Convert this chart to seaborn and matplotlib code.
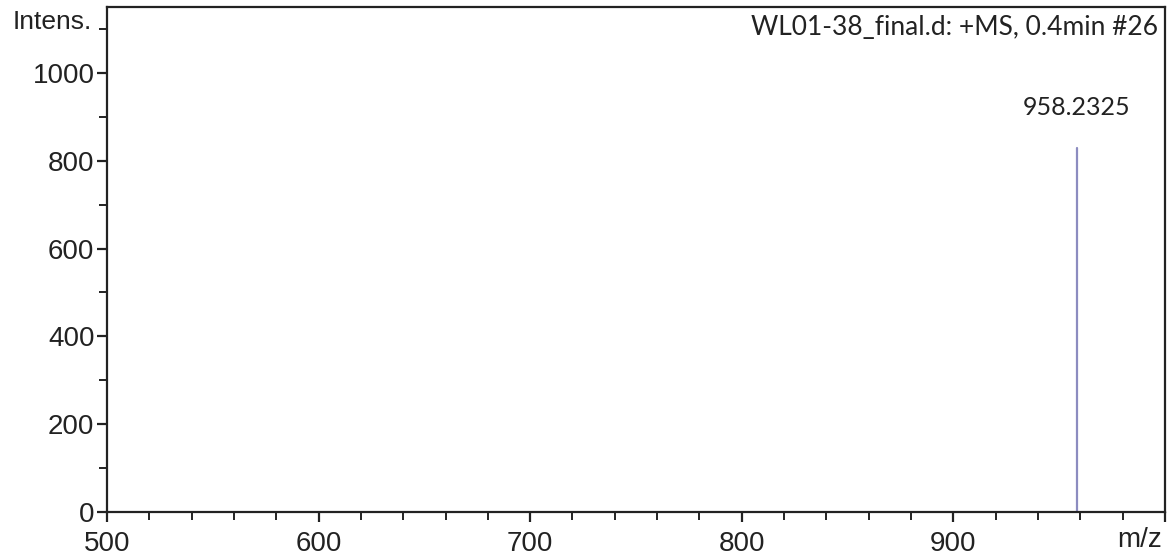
import numpy as np
import pandas as pd
import matplotlib
matplotlib.use("Agg")
import matplotlib.pyplot as plt
import seaborn as sns
from matplotlib.ticker import MultipleLocator

# Mass spectrum peaks
peak_mz = [958.2325]
peak_intensity = [830]
peak_labels = ["958.2325"]

x_ticks = [500, 600, 700, 800, 900]
y_ticks = [0, 200, 400, 600, 800, 1000]

spectrum_title = "WL01-38_final.d: +MS, 0.4min #26"

sns.set_theme(style="ticks")
plt.rcParams["font.family"] = ["Liberation Sans", "DejaVu Sans"]

df = pd.DataFrame({"mz": peak_mz, "intensity": peak_intensity, "label": peak_labels})

fig = plt.figure(figsize=(11.74, 5.57), dpi=100)
ax = fig.add_axes([0.0911, 0.0808, 0.9012, 0.9066])

# Stick spectrum: one vertical line per peak
stick = pd.DataFrame({
    "mz": np.repeat(df["mz"].values, 2),
    "intensity": np.column_stack([np.zeros(len(df)), df["intensity"].values]).ravel(),
    "peak": np.repeat(np.arange(len(df)), 2),
})
sns.lineplot(data=stick, x="mz", y="intensity", units="peak", estimator=None,
             color="#8c8cc0", linewidth=1.6, ax=ax, legend=False, sort=False)

for _, row in df.iterrows():
    ax.text(row["mz"], row["intensity"] + 65, row["label"], ha="center", va="bottom",
            fontsize=18, family=["Lato", "DejaVu Sans"], color="#222222")

ax.set_xlim(500, 1000)
ax.set_ylim(0, 1150)
ax.set_xticks(x_ticks + [1000])
ax.set_xticklabels([str(t) for t in x_ticks] + [""])
ax.set_yticks(y_ticks)
ax.xaxis.set_minor_locator(MultipleLocator(20))
ax.yaxis.set_minor_locator(MultipleLocator(100))
ax.set_xlabel("")
ax.set_ylabel("")

for s in ax.spines.values():
    s.set_linewidth(1.6)
    s.set_color("#222222")

ax.tick_params(axis="both", which="major", direction="out", length=7, width=1.6,
               labelsize=20, colors="#222222", pad=2)
ax.tick_params(axis="both", which="minor", direction="out", length=6, width=1.4,
               colors="#222222")
ax.tick_params(axis="x", which="major", pad=7)

ax.text(0.993, 0.985, spectrum_title, transform=ax.transAxes, ha="right", va="top",
        fontsize=19, family=["Lato", "DejaVu Sans"], color="#222222")

fig.text(52 / 1174, 1 - 22 / 557, "Intens.", ha="center", va="center", fontsize=19,
         color="#222222")
fig.text(1140 / 1174, 1 - 540 / 557, "m/z", ha="center", va="center", fontsize=20,
         color="#222222")

fig.savefig("out.png", dpi=100, facecolor="white")
